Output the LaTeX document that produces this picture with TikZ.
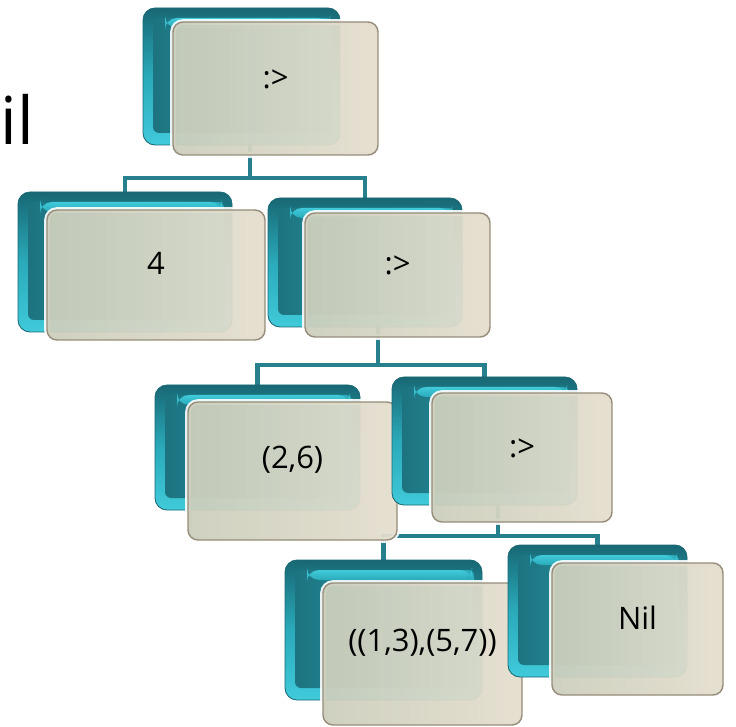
\documentclass[tikz,border=0pt]{standalone}
\usepackage{fontspec}
\setmainfont{Open Sans}
\usetikzlibrary{fit,backgrounds}

\definecolor{tealdark}{RGB}{24,104,116}
\definecolor{tealmid}{RGB}{42,170,186}
\definecolor{tealbright}{RGB}{64,202,218}
\definecolor{tealface}{RGB}{46,178,194}
\definecolor{tealin}{RGB}{28,112,124}
\definecolor{linkcol}{RGB}{38,128,142}
\definecolor{beigeL}{RGB}{204,206,188}
\definecolor{beigeR}{RGB}{228,222,206}
\definecolor{frameline}{RGB}{150,140,122}

\tikzset{
  backbox/.style={inner sep=0, rounded corners=0.3cm, draw=tealdark, line width=0.6pt,
    top color=tealdark, bottom color=tealbright, middle color=tealmid,
    path picture={
      \shade[left color=tealin, right color=tealface, rounded corners=0.15cm]
        ([shift={(10,10)}]path picture bounding box.north west) rectangle
        ([shift={(-8,-12)}]path picture bounding box.south east);
      \shade[top color=tealbright, bottom color=tealmid]
        ([shift={(22,10)}]path picture bounding box.north west) rectangle
        ([shift={(-10,20)}]path picture bounding box.north east);}},
  frontbox/.style={inner sep=0, rounded corners=0.25cm, draw=frameline, line width=1pt,
    left color=beigeL, right color=beigeR, fill opacity=0.94,
    preaction={draw=white, line width=4pt, draw opacity=0.9},
    text opacity=1, font=\fontsize{22}{26}\selectfont},
  link/.style={draw=linkcol, line width=3.5pt}
}

\begin{document}
\begin{tikzpicture}[x=0.025cm, y=-0.025cm]
\useasboundingbox (0,0) rectangle (736,727);

\node[anchor=base west, inner sep=0, font=\fontsize{47}{50}\selectfont] (cut) at (0,145) {il};

% top cell
\node[backbox, fit={(143,8) (340,145)}] (rootb) {};
\node[frontbox, fit={(173,22) (378,155)}] (root) {:>};

% second row
\node[backbox, fit={(18,192) (232,332)}] (headb) {};
\node[frontbox, fit={(47,210) (265,340)}] (head) {4};
\node[backbox, fit={(268,198) (462,327)}] (tailb) {};
\node[frontbox, fit={(305,213) (490,337)}] (tail) {:>};

% third row
\node[backbox, fit={(155,385) (360,510)}] (pairb) {};
\node[frontbox, fit={(188,402) (397,540)}] (pair) {(2,6)};
\node[backbox, fit={(392,377) (577,505)}] (tailtwob) {};
\node[frontbox, fit={(432,393) (612,522)}] (tailtwo) {:>};

% last row
\node[backbox, fit={(285,560) (482,700)}] (restb) {};
\node[frontbox, fit={(323,583) (522,725)}] (rest) {((1,3),(5,7))};
\node[backbox, fit={(508,545) (687,677)}] (nilb) {};
\node[frontbox, fit={(552,563) (723,695)}] (nil) {Nil};

\begin{scope}[on background layer]
\coordinate (bus1) at (250,178);
\coordinate (bus2) at (378,365);
\coordinate (bus3) at (498,536);
\draw[link] (bus1 |- rootb.south) -- (bus1) -| (headb.north);
\draw[link] (bus1) -| (tailb.north);
\draw[link] (bus2 |- tailb.south) -- (bus2) -| (pairb.north);
\draw[link] (bus2) -| (tailtwob.north);
\draw[link] (bus3 |- tailtwob.south) -- (bus3) -| (restb.north);
\draw[link] (bus3) -| (nilb.north);
\end{scope}
\end{tikzpicture}
\end{document}
